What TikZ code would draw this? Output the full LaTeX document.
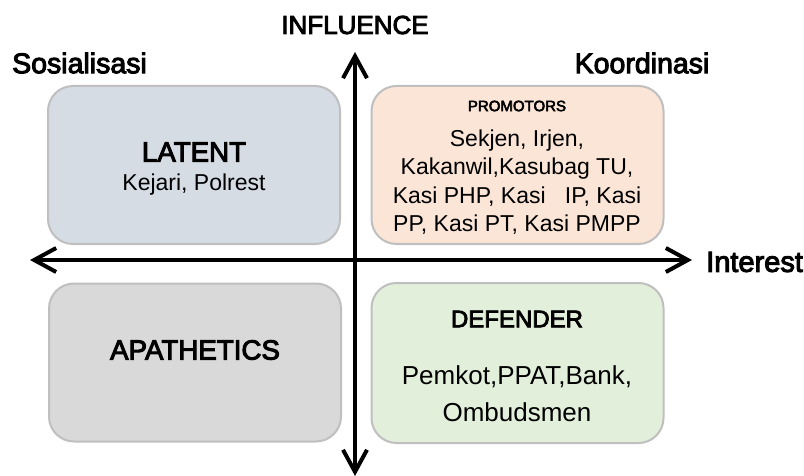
\documentclass[tikz,border=0pt]{standalone}
\usepackage{fontspec}
\setmainfont{Liberation Sans}
\newfontfamily\medium[FakeBold=3.5]{Liberation Sans}
\usetikzlibrary{arrows.meta}

\definecolor{quadline}{HTML}{BFBFBF}
\definecolor{latentfill}{HTML}{D6DCE4}
\definecolor{promofill}{HTML}{FBE5D6}
\definecolor{apathyfill}{HTML}{D9D9D9}
\definecolor{defendfill}{HTML}{E2EFDA}

\tikzset{
  quad/.style={rectangle, draw=quadline, line width=2pt, rounded corners=25pt,
    minimum width=292pt, minimum height=158pt},
  head/.style={inner sep=0pt, font=\medium\fontsize{27.7}{33}\selectfont},
  side/.style={inner sep=0pt, font=\medium\fontsize{28.5}{34}\selectfont},
  body/.style={inner sep=0pt, align=center, font=\fontsize{23}{28.5}\selectfont},
  axis/.style={line width=4pt, <->, >={Straight Barb[length=22pt,width=24pt]}},
}

\begin{document}
\begin{tikzpicture}[x=1pt, y=-1pt]
\useasboundingbox (0,0) rectangle (804,476);

% Kuadran
\node (latent) [quad, fill=latentfill] at (194,165) {};
\node (promotors) [quad, fill=promofill] at (517.5,165) {};
\node (apathetics) [quad, fill=apathyfill] at (195,362.5) {};
\node (defender) [quad, fill=defendfill, minimum height=160pt] at (517.5,363) {};

% Isi kuadran
\node (latentTitle) [head] at (194,152) {LATENT};
\node (latentList) [body] at (194,185) {Kejari, Polrest};

\node (promoTitle) [head, font=\medium\fontsize{15}{18}\selectfont] at (517,106) {PROMOTORS};
\node (promoList) [body] at (517,182)
    {Sekjen, Irjen,\\Kakanwil,Kasubag TU,\\Kasi PHP, Kasi\ \ \ IP, Kasi\\PP, Kasi PT, Kasi PMPP};

\node (apathyTitle) [head] at (195,350) {APATHETICS};

\node (defendTitle) [head, font=\medium\fontsize{24}{29}\selectfont] at (517,319) {DEFENDER};
\node (defendList) [body, font=\fontsize{26}{31}\selectfont] at (517,394) {Pemkot,PPAT,Bank,\\[6pt]Ombudsmen};

% Sumbu
\coordinate (axisTop) at (355,52);
\coordinate (axisBottom) at (355,476);
\coordinate (axisLeft) at (30,260);
\coordinate (axisRight) at (692,260);
\draw [axis] (axisBottom) -- (axisTop);
\draw [axis] (axisLeft) -- (axisRight);

% Label sumbu
\node (influence) [head, font=\medium\fontsize{26}{31}\selectfont] at (355,25) {INFLUENCE};
\node (interest) [side, font=\medium\fontsize{29}{34}\selectfont, anchor=west] at (706,262) {Interest};
\node (sosialisasi) [side, anchor=west] at (12,63) {Sosialisasi};
\node (koordinasi) [side] at (642,63) {Koordinasi};
\end{tikzpicture}
\end{document}
